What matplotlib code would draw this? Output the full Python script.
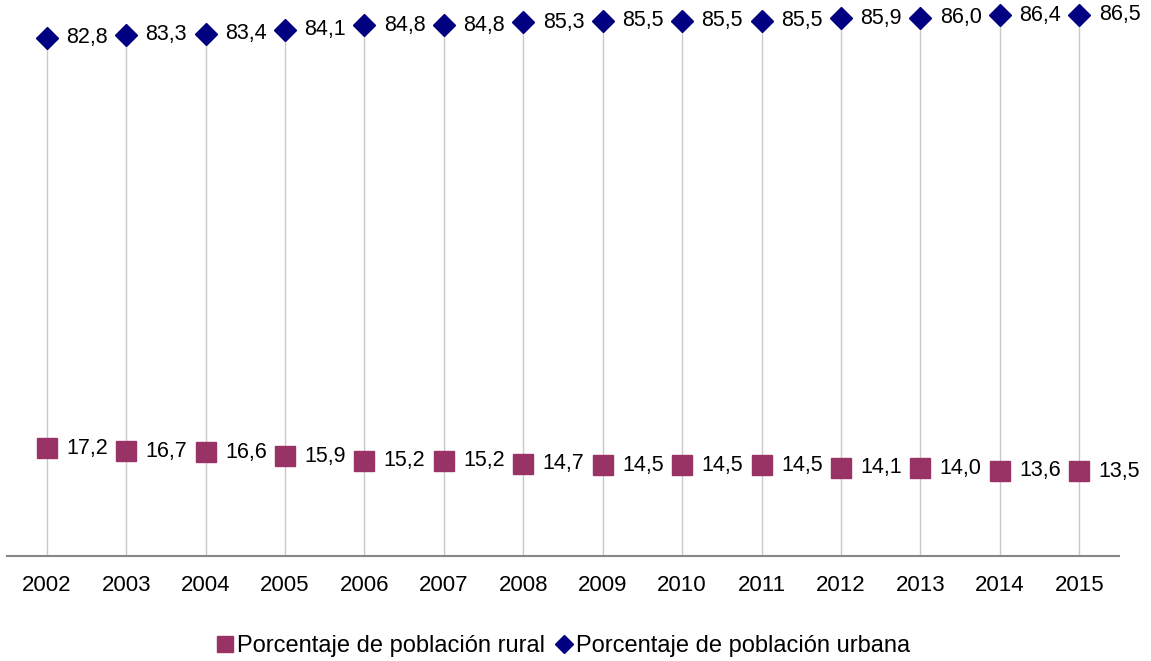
import matplotlib
matplotlib.use("Agg")
import numpy as np
from matplotlib import pyplot as plt

plt.rcParams['font.family'] = ['Liberation Sans', 'DejaVu Sans']

years = ["2002", "2003", "2004", "2005", "2006", "2007", "2008",
         "2009", "2010", "2011", "2012", "2013", "2014", "2015"]
urbana = [82.8, 83.3, 83.4, 84.1, 84.8, 84.8, 85.3, 85.5, 85.5, 85.5, 85.9, 86.0, 86.4, 86.5]
rural = [17.2, 16.7, 16.6, 15.9, 15.2, 15.2, 14.7, 14.5, 14.5, 14.5, 14.1, 14.0, 13.6, 13.5]

col_rural = "#993366"
col_urb = "#000080"

fig = plt.figure(figsize=(11.51, 6.61), dpi=100)
ax = fig.add_axes([7 / 1151, 105 / 661, 1112 / 1151, 556 / 661])
x = np.arange(len(years))

# drop lines from urban points down to the axis
ax.vlines(x, 0, urbana, color="#c8c8c8", lw=1.0, zorder=1)

ax.plot(x, rural, ls="none", marker="s", ms=15, color=col_rural,
        mec=col_rural, label="Porcentaje de población rural", zorder=3, clip_on=False)
ax.plot(x, urbana, ls="none", marker="D", ms=11, color=col_urb,
        mec=col_urb, label="Porcentaje de población urbana", zorder=3, clip_on=False)

for xi, v in zip(x, rural):
    ax.annotate(f"{v:.1f}".replace(".", ","), (xi, v), xytext=(14, 0),
                textcoords="offset points", va="center", ha="left", fontsize=15.5)
for xi, v in zip(x, urbana):
    ax.annotate(f"{v:.1f}".replace(".", ","), (xi, v), xytext=(14, 0),
                textcoords="offset points", va="center", ha="left", fontsize=15.5)

ax.set_xlim(-0.5, 13.5)
ax.set_ylim(0, 556 / 6.26)
ax.set_xticks(x)
ax.set_xticklabels(years, fontsize=16)
ax.tick_params(axis="x", length=0, pad=14)
ax.set_yticks([])
for s in ["top", "right", "left"]:
    ax.spines[s].set_visible(False)
ax.spines["bottom"].set_color("#868686")
ax.spines["bottom"].set_linewidth(1.5)

fig.legend(loc="center", bbox_to_anchor=(0.488, 1 - 646 / 661), ncol=2, frameon=False,
           fontsize=17, handletextpad=0.0, columnspacing=0.3, handlelength=1.0,
           markerscale=0.8)

fig.savefig("out.png", dpi=100)
